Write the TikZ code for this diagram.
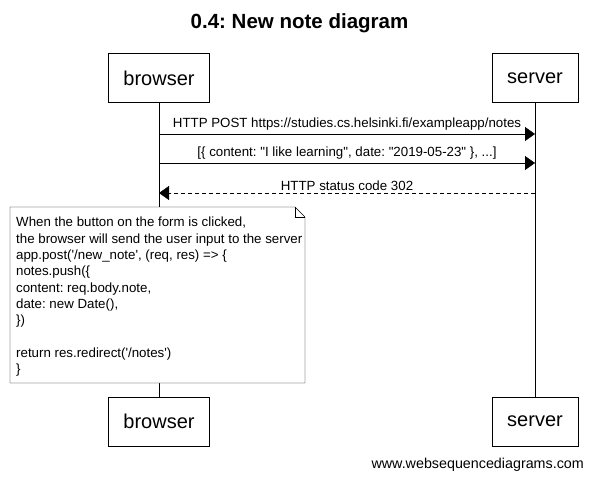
\documentclass[tikz,border=0pt]{standalone}
\usepackage{fontspec}
\setmainfont{Liberation Sans}[Ligatures=TeXOff]
\usetikzlibrary{arrows.meta}

\tikzset{
  actor/.style={draw, inner sep=0pt, minimum height=49pt, font=\fontsize{20}{24}\selectfont},
  msg/.style={-{Triangle[length=10pt,width=14pt]}},
  msgtext/.style={inner sep=0pt, font=\fontsize{13.3}{15}\selectfont},
}

\begin{document}
\frenchspacing
\begin{tikzpicture}[x=1pt,y=-1pt]
                        \useasboundingbox (0,0) rectangle (592,480);

                        % title
                        \node[font=\bfseries\fontsize{20.5}{24}\selectfont] (title) at (299.5,23) {0.4: New note diagram};

                        % participants
                        \node[actor, minimum width=101pt] (browserTop) at (159,78) {browser};
                        \node[actor, minimum width=86pt] (serverTop) at (535,78) {server};
                        \node[actor, minimum width=101pt] (browserBot) at (159,421.5) {browser};
                        \node[actor, minimum width=86pt] (serverBot) at (535,421.5) {server};

                        % lifelines
                        \draw (browserTop) -- (browserBot);
                        \draw (serverTop) -- (serverBot);

                        % message end points
                        \coordinate (b1) at (browserTop.south |- 0,134);
                        \coordinate (s1) at (serverTop.south |- 0,134);
                        \coordinate (b2) at (browserTop.south |- 0,163);
                        \coordinate (s2) at (serverTop.south |- 0,163);
                        \coordinate (b3) at (browserTop.south |- 0,193);
                        \coordinate (s3) at (serverTop.south |- 0,193);

                        % messages
                        \draw[msg] (b1) -- node[msgtext, above=3.5pt] {HTTP POST https://studies.cs.helsinki.fi/exampleapp/notes} (s1);
                        \draw[msg] (b2) -- node[msgtext, above=3.5pt] {[\{ content: "I like learning", date: "2019-05-23" \}, ...]} (s2);
                        \draw[msg, dash pattern=on 4pt off 3pt] (s3) -- node[msgtext, above=2.5pt] {HTTP status code 302} (b3);

                        % note
                        \filldraw[fill=white] (10,207) -- (295,207) -- (305,217) -- (305,383) -- (10,383) -- cycle;
                        \draw (295,207) -- (295,217) -- (305,217);
                        \node[anchor=north west, inner sep=0pt, align=left, font=\fontsize{13.3}{16.3}\selectfont] (note) at (16,217) {%
                          When the button on the form is clicked,\\
                          the browser will send the user input to the server\\
                          app.post('/new\_note', (req, res) => \{\\
                          notes.push(\{\\
                          content: req.body.note,\\
                          date: new Date(),\\
                          \})\\[16.3pt]
                          return res.redirect('/notes')\\
                          \}};

                        % footer
                        \node[anchor=east, inner sep=0pt, font=\fontsize{14.3}{16}\selectfont] (footer) at (584,465) {www.websequencediagrams.com};
\end{tikzpicture}
\end{document}
